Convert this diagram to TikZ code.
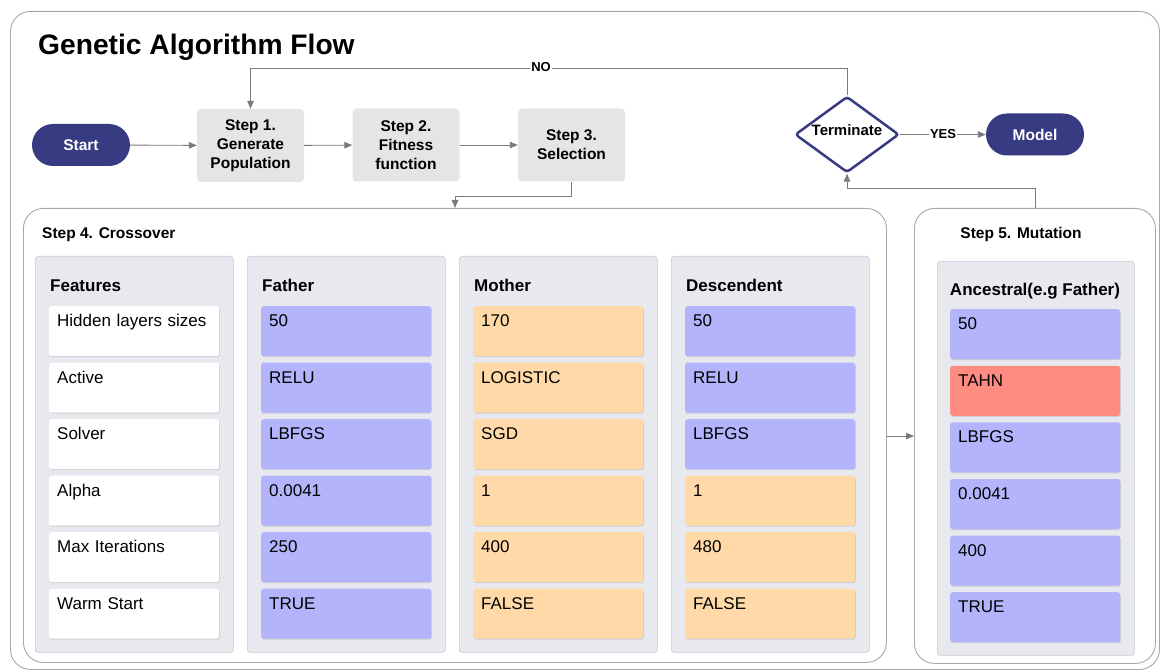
\documentclass[tikz,border=0pt]{standalone}
\usepackage{fontspec}
\setmainfont{Liberation Sans}
\usetikzlibrary{arrows.meta,shapes.geometric,shadows}
\definecolor{navy}{HTML}{363B82}
\definecolor{stepgray}{HTML}{E5E5E5}
\definecolor{panelfill}{HTML}{E7E9EE}
\definecolor{panelline}{HTML}{C6CBD3}
\definecolor{cellblue}{HTML}{B3B4FC}
\definecolor{cellorange}{HTML}{FFDAA8}
\definecolor{cellred}{HTML}{FF8C80}
\definecolor{framegray}{HTML}{A8A8A8}
\definecolor{conngray}{HTML}{7A7A7A}
\tikzset{
  frame/.style={draw=framegray, line width=0.9pt, rounded corners=20pt, fill=white, anchor=north west, inner sep=0pt},
  pill/.style={fill=navy, rounded corners=21pt, text=white, font=\bfseries\fontsize{15.5}{18}\selectfont, minimum width=98pt, minimum height=42pt, inner sep=0pt},
  stepbox/.style={fill=stepgray, rounded corners=4pt, font=\bfseries\fontsize{15.5}{19}\selectfont, align=center, minimum width=107pt, minimum height=73pt, inner sep=0pt},
  panel/.style={fill=panelfill, draw=panelline, line width=0.7pt, rounded corners=3pt, anchor=north west, minimum width=198pt, minimum height=396pt, inner sep=0pt},
  cell/.style={anchor=north west, rounded corners=2.5pt, text width=154pt, align=left, inner xsep=8pt, inner ysep=8pt, text height=12.5pt, text depth=21.5pt, font=\fontsize{17}{20}\selectfont, drop shadow={shadow xshift=0.6pt, shadow yshift=-1pt, opacity=0.25}},
  head/.style={font=\bfseries\fontsize{17}{20}\selectfont, anchor=base west, inner sep=0pt},
  sub/.style={font=\bfseries\fontsize{15.5}{18}\selectfont, inner sep=0pt},
  lab/.style={font=\bfseries\fontsize{13}{15}\selectfont, fill=white, inner sep=1pt},
  conn/.style={draw=conngray, line width=0.9pt, -{Triangle[length=8pt,width=6.5pt]}}
}
\begin{document}
\begin{tikzpicture}[x=1pt,y=-1pt]
\useasboundingbox (0,0) rectangle (1160,671);
\node[frame, minimum width=1149pt, minimum height=658pt] (outer) at (10,11) {};
\node[font=\bfseries\fontsize{28.2}{33}\selectfont, anchor=base west, inner sep=0pt] (title) at (38,55) {Genetic Algorithm Flow};

% top flow
\node[pill] (start) at (81,145) {Start};
\node[stepbox] (s1) at (250.5,145.5) {Step 1.\\Generate\\Population};
\node[stepbox] (s2) at (406,145) {Step 2.\\Fitness\\function};
\node[stepbox] (s3) at (571.5,145) {Step 3.\\Selection};
\node[diamond, draw=navy, line width=2.5pt, fill=white, rounded corners=3pt, minimum width=104pt, minimum height=76pt, inner sep=0pt] (term) at (847,134.5) {};
\node[font=\bfseries\fontsize{15}{18}\selectfont, inner sep=0pt] (termtxt) at ([yshift=4pt]term.center) {Terminate};
\node[pill] (model) at (1035,134.5) {Model};

% frames
\node[frame, minimum width=863pt, minimum height=454pt] (xo) at (23,208) {};
\node[frame, minimum width=241pt, minimum height=455pt] (mut) at (914,208) {};
\node[sub, anchor=base west] (xotitle) at (42,239) {Step 4. Crossover};
\node[sub, anchor=base] (muttitle) at (1021,239) {Step 5. Mutation};

% crossover panels
\node[panel] (pfeat) at (35,256) {};
\node[panel] (pfath) at (247,256) {};
\node[panel] (pmoth) at (459,256) {};
\node[panel] (pdesc) at (671,256) {};
\node[panel, minimum width=197pt, minimum height=394pt] (pmut) at (937,261) {};

\node[head] (hfeat) at (50,292) {Features};
\node[head] (hfath) at (262,292) {Father};
\node[head] (hmoth) at (474,292) {Mother};
\node[head] (hdesc) at (686,292) {Descendent};
\node[head, anchor=base] (hmut) at (1035,296) {Ancestral(e.g Father)};

\foreach \t [count=\i] in {Hidden layers sizes, Active, Solver, Alpha, Max Iterations, Warm Start}
  \node[cell, fill=white] (feat\i) at (49,{306+(\i-1)*56.5}) {\t};
\foreach \t/\c [count=\i] in {50/cellblue, RELU/cellblue, LBFGS/cellblue, 0.0041/cellblue, 250/cellblue, TRUE/cellblue}
  \node[cell, fill=\c] (fath\i) at (261,{306+(\i-1)*56.5}) {\t};
\foreach \t/\c [count=\i] in {170/cellorange, LOGISTIC/cellorange, SGD/cellorange, 1/cellorange, 400/cellorange, FALSE/cellorange}
  \node[cell, fill=\c] (moth\i) at (473,{306+(\i-1)*56.5}) {\t};
\foreach \t/\c [count=\i] in {50/cellblue, RELU/cellblue, LBFGS/cellblue, 1/cellorange, 480/cellorange, FALSE/cellorange}
  \node[cell, fill=\c] (desc\i) at (685,{306+(\i-1)*56.5}) {\t};
\foreach \t/\c [count=\i] in {50/cellblue, TAHN/cellred, LBFGS/cellblue, 0.0041/cellblue, 400/cellblue, TRUE/cellblue}
  \node[cell, fill=\c] (mcell\i) at (950,{309+(\i-1)*56.6}) {\t};

% connectors
\coordinate (noy) at (0,68);
\coordinate (c3) at (455,196);
\coordinate (c5) at (0,188);
\coordinate (c45) at (0,436);
\draw[conn] (start) -- (s1);
\draw[conn] (s1) -- (s2);
\draw[conn] (s2) -- (s3);
\draw[conn] (term.north) -- (term.north |- noy) -| (s1.north);
\node[lab] (nolab) at (541,67) {NO};
\draw[conn] (term.east) -- (model.west) node[lab, midway] (yeslab) {YES};
\draw[conn] (s3.south) |- (c3) -- (c3 |- xo.north);
\draw[conn] (mut.north) |- (term.south |- c5) -- (term.south);
\draw[conn] (xo.east |- c45) -- (mut.west |- c45);
\end{tikzpicture}
\end{document}
